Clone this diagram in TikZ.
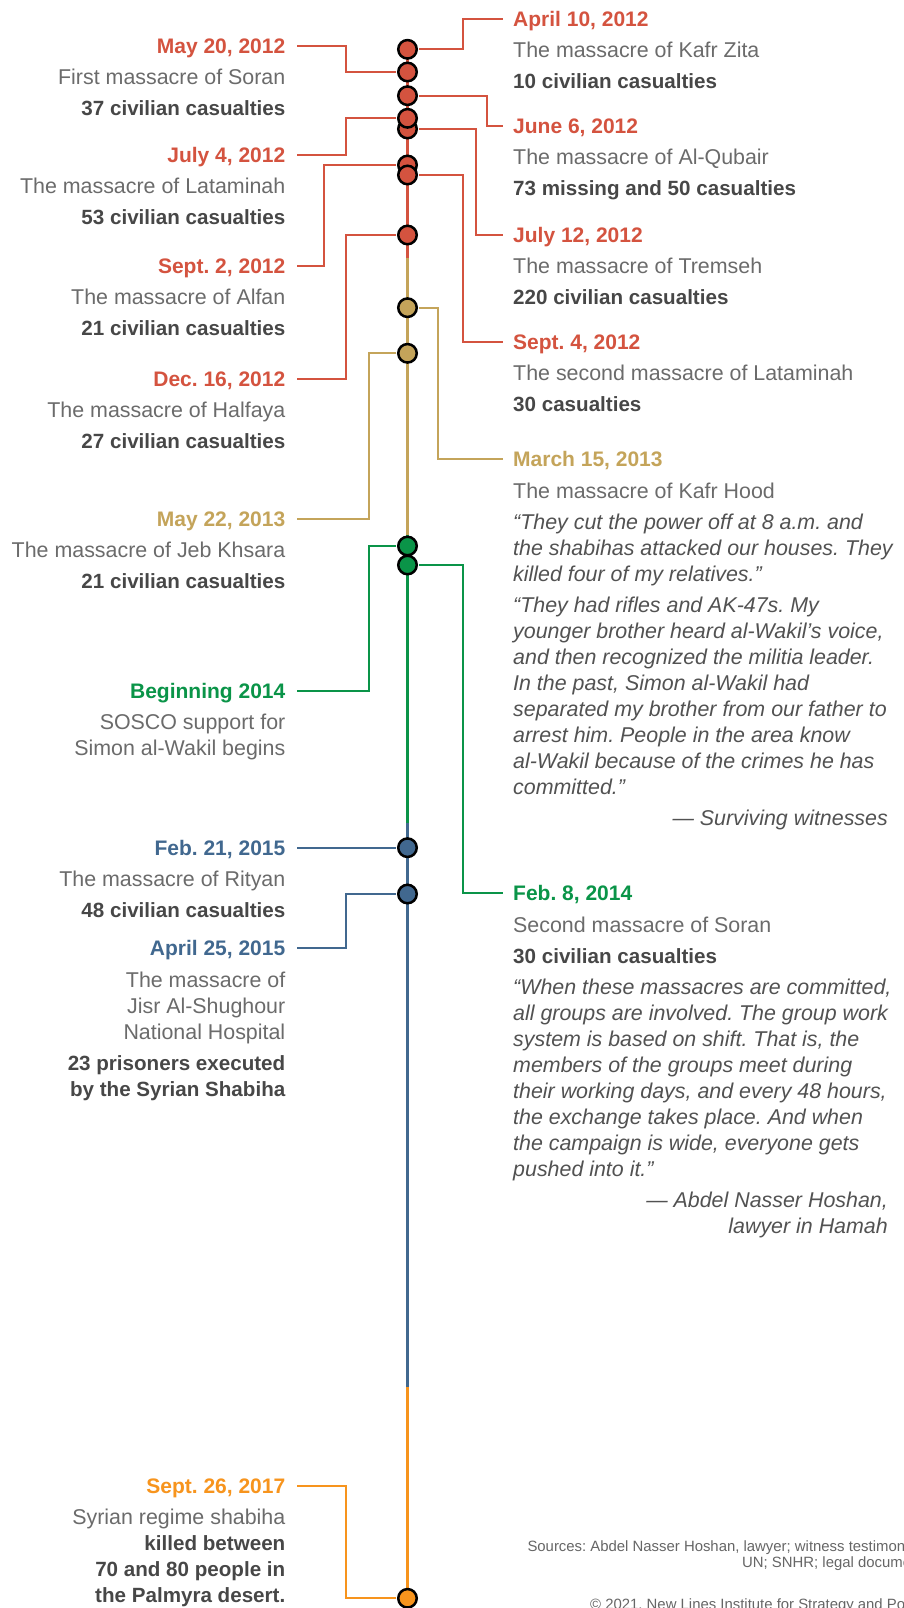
\documentclass[tikz,border=0pt]{standalone}
\usepackage{fontspec}
\setmainfont{Liberation Sans}
\usetikzlibrary{positioning}
\definecolor{cred}{HTML}{D4533F}
\definecolor{cgold}{HTML}{C4A45A}
\definecolor{cgreen}{HTML}{0A9448}
\definecolor{cblue}{HTML}{41688F}
\definecolor{corange}{HTML}{F7941D}
\definecolor{ctext}{HTML}{6B6B6B}
\definecolor{cbold}{HTML}{474747}
\definecolor{cquote}{HTML}{525252}
\definecolor{cnote}{HTML}{666666}
\newcommand{\casl}[1]{{\fontsize{20.6}{26}\selectfont\bfseries\color{cbold}#1}}
\newcommand{\qline}[1]{{\itshape\color{cquote}#1}}
\tikzset{
  tdot/.style={circle, draw=black, line width=2.5pt, minimum size=18.5pt, inner sep=0pt},
  tl/.style={line width=3pt},
  lnk/.style={line width=2pt, shorten <=1.2pt},
  date/.style={inner sep=0pt, font=\fontsize{21}{26}\selectfont\bfseries, text height=15.3pt, text depth=0pt},
  body/.style={inner sep=0pt, font=\fontsize{21.4}{26}\selectfont, text=ctext},
  lbody/.style={body, align=right, below left=20.5pt and 0pt of #1.east},
  rbody/.style={body, align=left, below right=20.5pt and 0pt of #1.west},
  note/.style={inner sep=0pt, font=\fontsize{14.9}{17}\selectfont, text=cnote, anchor=base west}
}
\begin{document}
\frenchspacing
\begin{tikzpicture}[x=1pt,y=-1pt]
\path[fill=white] (0,0) rectangle (904,1608);
\useasboundingbox (0,0) rectangle (904,1608);

% timeline
\coordinate (t0) at (407.5,49.3);
\coordinate (t1) at (407.5,258);
\coordinate (t2) at (407.5,535);
\coordinate (t3) at (407.5,823);
\coordinate (t4) at (407.5,1387);
\coordinate (t5) at (407.5,1598.3);
\draw[tl, cred] (t0) -- (t1);
\draw[tl, cgold] (t1) -- (t2);
\draw[tl, cgreen] (t2) -- (t3);
\draw[tl, cblue] (t3) -- (t4);
\draw[tl, corange] (t4) -- (t5);

% dots
\node[tdot, fill=cred] (d1) at (407.5,49.3) {};
\node[tdot, fill=cred] (d2) at (407.5,72) {};
\node[tdot, fill=cred] (d3) at (407.5,95.7) {};
\node[tdot, fill=cred] (d5) at (407.5,129) {};
\node[tdot, fill=cred] (d4) at (407.5,118.3) {};
\node[tdot, fill=cred] (d6) at (407.5,165) {};
\node[tdot, fill=cred] (d7) at (407.5,175) {};
\node[tdot, fill=cred] (d8) at (407.5,235) {};
\node[tdot, fill=cgold] (d9) at (407.5,307.7) {};
\node[tdot, fill=cgold] (d10) at (407.5,353.3) {};
\node[tdot, fill=cgreen] (d11) at (407.5,546) {};
\node[tdot, fill=cgreen] (d12) at (407.5,565) {};
\node[tdot, fill=cblue] (d13) at (407.5,847.7) {};
\node[tdot, fill=cblue] (d14) at (407.5,894) {};
\node[tdot, fill=corange] (d15) at (407.5,1598.3) {};

% right side
\node[date, text=cred, anchor=west] (R1) at (513,18.7) {April 10, 2012};
\node[rbody=R1] (R1b) {\strut The massacre of Kafr Zita\\[5pt] \casl{10 civilian casualties}};
\node[date, text=cred, anchor=west] (R2) at (513,125.7) {June 6, 2012};
\node[rbody=R2] (R2b) {\strut The massacre of Al-Qubair\\[5pt] \casl{73 missing and 50 casualties}};
\node[date, text=cred, anchor=west] (R3) at (513,235) {July 12, 2012};
\node[rbody=R3] (R3b) {\strut The massacre of Tremseh\\[5pt] \casl{220 civilian casualties}};
\node[date, text=cred, anchor=west] (R4) at (513,341.7) {Sept. 4, 2012};
\node[rbody=R4] (R4b) {\strut The second massacre of Lataminah\\[5pt] \casl{30 casualties}};
\node[date, text=cgold, anchor=west] (R5) at (513,459.3) {March 15, 2013};
\node[rbody=R5] (R5b) {\strut The massacre of Kafr Hood\\[5pt]
  \qline{“They cut the power off at 8 a.m. and}\\
  \qline{the shabihas attacked our houses. They}\\
  \qline{killed four of my relatives.”}\\[5pt]
  \qline{“They had rifles and AK-47s. My}\\
  \qline{younger brother heard al-Wakil’s voice,}\\
  \qline{and then recognized the militia leader.}\\
  \qline{In the past, Simon al-Wakil had}\\
  \qline{separated my brother from our father to}\\
  \qline{arrest him. People in the area know}\\
  \qline{al-Wakil because of the crimes he has}\\
  \qline{committed.”}};
\node[body, anchor=base east] (R5a) at (888,825) {\qline{— Surviving witnesses}};
\node[date, text=cgreen, anchor=west] (R6) at (513,893.3) {Feb. 8, 2014};
\node[rbody=R6] (R6b) {\strut Second massacre of Soran\\[5pt] \casl{30 civilian casualties}\\[5pt]
  \qline{“When these massacres are committed,}\\
  \qline{all groups are involved. The group work}\\
  \qline{system is based on shift. That is, the}\\
  \qline{members of the groups meet during}\\
  \qline{their working days, and every 48 hours,}\\
  \qline{the exchange takes place. And when}\\
  \qline{the campaign is wide, everyone gets}\\
  \qline{pushed into it.”}};
\node[body, align=right, anchor=north east] (R6a) at (888,1188.8) {\strut\qline{— Abdel Nasser Hoshan,}\\ \qline{lawyer in Hamah}};

% left side
\node[date, text=cred, anchor=east] (L1) at (285.5,45.7) {May 20, 2012};
\node[lbody=L1] (L1b) {\strut First massacre of Soran\\[5pt] \casl{37 civilian casualties}};
\node[date, text=cred, anchor=east] (L2) at (285.5,155) {July 4, 2012};
\node[lbody=L2] (L2b) {\strut The massacre of Lataminah\\[5pt] \casl{53 civilian casualties}};
\node[date, text=cred, anchor=east] (L3) at (285.5,266) {Sept. 2, 2012};
\node[lbody=L3] (L3b) {\strut The massacre of Alfan\\[5pt] \casl{21 civilian casualties}};
\node[date, text=cred, anchor=east] (L4) at (285.5,379) {Dec. 16, 2012};
\node[lbody=L4] (L4b) {\strut The massacre of Halfaya\\[5pt] \casl{27 civilian casualties}};
\node[date, text=cgold, anchor=east] (L5) at (285.5,519) {May 22, 2013};
\node[lbody=L5] (L5b) {\strut The massacre of Jeb Khsara\\[5pt] \casl{21 civilian casualties}};
\node[date, text=cgreen, anchor=east] (L6) at (285.5,690.7) {Beginning 2014};
\node[lbody=L6] (L6b) {\strut SOSCO support for\\ Simon al-Wakil begins};
\node[date, text=cblue, anchor=east] (L7) at (285.5,847.7) {Feb. 21, 2015};
\node[lbody=L7] (L7b) {\strut The massacre of Rityan\\[5pt] \casl{48 civilian casualties}};
\node[date, text=cblue, anchor=east] (L8) at (285.5,948.3) {April 25, 2015};
\node[lbody=L8] (L8b) {\strut The massacre of\\ Jisr Al-Shughour\\ National Hospital\\[5pt]
  \casl{23 prisoners executed}\\ \casl{by the Syrian Shabiha}};
\node[date, text=corange, anchor=east] (L9) at (285.5,1486) {Sept. 26, 2017};
\node[lbody=L9] (L9b) {\strut Syrian regime shabiha\\ \casl{killed between}\\
  \casl{70 and 80 people in}\\ \casl{the Palmyra desert.}};

% connectors
\draw[lnk, cred] (d1) -| ([xshift=-49.7pt]R1.west) -- ([xshift=-10pt]R1.west);
\draw[lnk, cred] (d2) -| ([xshift=60.2pt]L1.east) -- ([xshift=11.5pt]L1.east);
\draw[lnk, cred] (d3) -| ([xshift=-26pt]R2.west) -- ([xshift=-10pt]R2.west);
\draw[lnk, cred] (d4) -| ([xshift=60.2pt]L2.east) -- ([xshift=11.5pt]L2.east);
\draw[lnk, cred] (d5) -| ([xshift=-37.3pt]R3.west) -- ([xshift=-10pt]R3.west);
\draw[lnk, cred] (d6) -| ([xshift=38.8pt]L3.east) -- ([xshift=11.5pt]L3.east);
\draw[lnk, cred] (d7) -| ([xshift=-49.7pt]R4.west) -- ([xshift=-10pt]R4.west);
\draw[lnk, cred] (d8) -| ([xshift=60.2pt]L4.east) -- ([xshift=11.5pt]L4.east);
\draw[lnk, cgold] (d9) -| ([xshift=-74.7pt]R5.west) -- ([xshift=-10pt]R5.west);
\draw[lnk, cgold] (d10) -| ([xshift=83.5pt]L5.east) -- ([xshift=11.5pt]L5.east);
\draw[lnk, cgreen] (d11) -| ([xshift=83.5pt]L6.east) -- ([xshift=11.5pt]L6.east);
\draw[lnk, cgreen] (d12) -| ([xshift=-49.7pt]R6.west) -- ([xshift=-10pt]R6.west);
\draw[lnk, cblue] (d13) -- ([xshift=11.5pt]L7.east);
\draw[lnk, cblue] (d14) -| ([xshift=60.2pt]L8.east) -- ([xshift=11.5pt]L8.east);
\draw[lnk, corange] (d15) -| ([xshift=60.3pt]L9.east) -- ([xshift=11.5pt]L9.east);

% sources
\node[note] (src1) at (527.3,1551) {Sources: Abdel Nasser Hoshan, lawyer; witness testimon};
\node[note] (src2) at (742,1567) {UN; SNHR; legal docume};
\node[note] (copy) at (590,1609) {© 2021, New Lines Institute for Strategy and Po};
\end{tikzpicture}
\end{document}
